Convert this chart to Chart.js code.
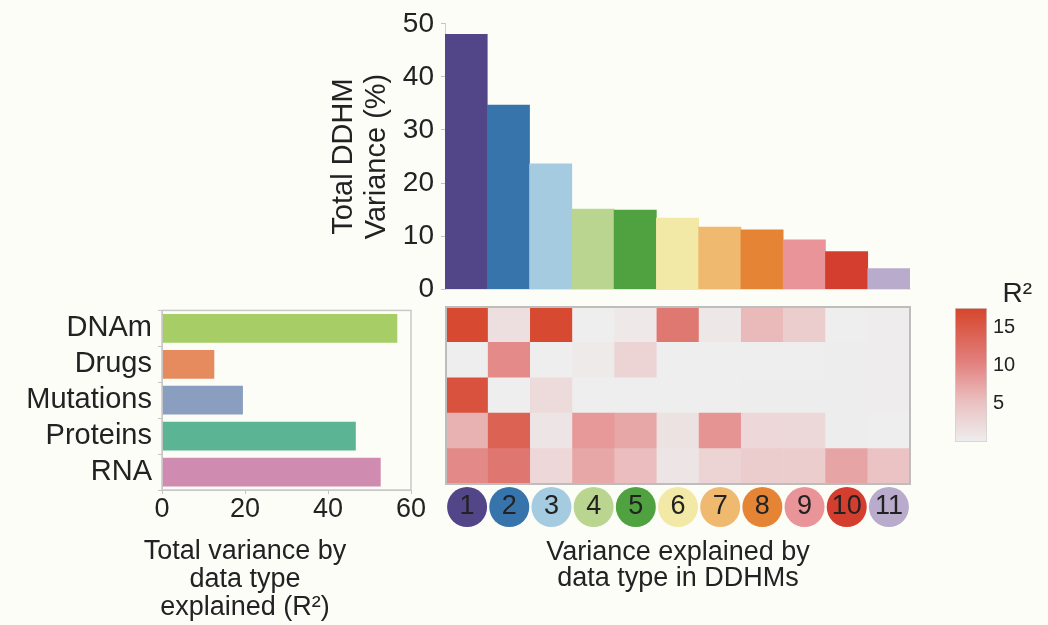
<!DOCTYPE html>
<html>
<head>
<meta charset="utf-8">
<script src="https://cdn.jsdelivr.net/npm/chart.js@4/dist/chart.umd.min.js"></script>
<style>
  html, body { margin: 0; padding: 0; background: #fdfdf8; }
  body { width: 1048px; height: 625px; position: relative; overflow: hidden; }
  canvas { position: absolute; }
</style>
</head>
<body>
<canvas id="ddhm-bars" width="600" height="313" style="left:320px;top:0"></canvas>
<canvas id="type-bars" width="440" height="338" style="left:0;top:287px"></canvas>
<canvas id="r2-heatmap" width="480" height="300" style="left:440px;top:300px"></canvas>
<canvas id="r2-colorbar" width="92" height="180" style="left:940px;top:280px"></canvas>
<script>
// DDHM modules
const ddhmLabels = ['1', '2', '3', '4', '5', '6', '7', '8', '9', '10', '11'];
const ddhmVariance = [48.0, 34.7, 23.6, 15.1, 14.9, 13.4, 11.7, 11.2, 9.3, 7.1, 3.9];
const ddhmColors = ['#524588', '#3774ab', '#a5cbe0', '#bad58f', '#4fa23f', '#f1e9a5',
  '#efb970', '#e48434', '#e89498', '#d43e2e', '#b8abcc'];
const varianceTicks = [0, 10, 20, 30, 40, 50];

// data types
const dataTypes = ['DNAm', 'Drugs', 'Mutations', 'Proteins', 'RNA'];
const typeVariance = [56.7, 12.6, 19.5, 46.7, 52.7];
const typeColors = ['#a6cd66', '#e58b5e', '#8a9ec0', '#5bb595', '#cf8bb0'];
const typeTicks = [0, 20, 40, 60];
const typeCaption = ['Total variance by', 'data type', 'explained (R²)'];

// R2 per data type per DDHM
const r2DNAm = [17.0, 1.8, 17.0, 0.0, 0.7, 11.4, 0.8, 5.8, 3.8, 0.0, 0.2];
const r2Drugs = [0.0, 9.6, 0.0, 0.5, 3.0, 0.0, 0.0, 0.0, 0.0, 0.1, 0.2];
const r2Mutations = [16.0, 0.0, 2.3, 0.0, 0.0, 0.0, 0.0, 0.1, 0.1, 0.1, 0.2];
const r2Proteins = [6.4, 14.0, 1.0, 8.4, 7.3, 1.4, 8.8, 2.6, 2.5, 0.1, 0.0];
const r2RNA = [9.7, 11.6, 2.6, 7.3, 5.5, 1.0, 3.0, 3.8, 3.8, 7.5, 4.9];
const r2Ticks = [5, 10, 15];
const R2_MAX = 17.5;

const COLOR_STOPS = [[0, '#eeeeee'], [0.3, '#ebc0c1'], [0.6, '#e27f7d'], [1, '#d6462b']];
const FONT = "'Liberation Sans', Arial, Helvetica, sans-serif";
const INK = '#222222';

Chart.defaults.font.family = FONT;
Chart.defaults.color = INK;
Chart.defaults.animation = false;
Chart.defaults.responsive = false;
Chart.defaults.plugins.legend.display = false;
Chart.defaults.plugins.tooltip.enabled = false;

function hexToRgb(hex) {
  const n = parseInt(hex.slice(1), 16);
  return [(n >> 16) & 255, (n >> 8) & 255, n & 255];
}

function r2Color(v) {
  const t = Math.max(0, Math.min(1, v / R2_MAX));
  for (let i = 1; i < COLOR_STOPS.length; i++) {
    const [t0, c0] = COLOR_STOPS[i - 1];
    const [t1, c1] = COLOR_STOPS[i];
    if (t <= t1) {
      const f = (t - t0) / (t1 - t0);
      const a = hexToRgb(c0), b = hexToRgb(c1);
      const rgb = a.map((x, k) => Math.round(x + (b[k] - x) * f));
      return `rgb(${rgb.join(',')})`;
    }
  }
  return COLOR_STOPS[COLOR_STOPS.length - 1][1];
}

function frame(color, width) {
  return {
    id: 'frame',
    afterDraw(chart) {
      const { ctx, chartArea: a } = chart;
      ctx.save();
      ctx.strokeStyle = color;
      ctx.lineWidth = width;
      ctx.strokeRect(a.left, a.top, a.right - a.left, a.bottom - a.top);
      ctx.restore();
    },
  };
}

// caption under the x axis, centred a bit left of the plot like the original
function caption(lines, centreX, gapBelowAxis, lineGap) {
  return {
    id: 'caption',
    afterDraw(chart) {
      const { ctx } = chart;
      const y0 = chart.scales.x.bottom + gapBelowAxis;
      ctx.save();
      ctx.font = `27px ${FONT}`;
      ctx.fillStyle = INK;
      ctx.textAlign = 'center';
      ctx.textBaseline = 'middle';
      lines.forEach((line, i) => ctx.fillText(line, centreX, y0 + i * lineGap));
      ctx.restore();
    },
  };
}

const circleBadges = {
  id: 'circleBadges',
  beforeDraw(chart) {
    const { ctx, chartArea, scales } = chart;
    const cy = chartArea.bottom + 23;
    ctx.save();
    ddhmColors.forEach((color, i) => {
      ctx.beginPath();
      ctx.arc(scales.x.getPixelForValue(i), cy, 20, 0, Math.PI * 2);
      ctx.fillStyle = color;
      ctx.fill();
    });
    ctx.restore();
  },
};

// top: total DDHM variance
new Chart(document.getElementById('ddhm-bars'), {
  type: 'bar',
  data: {
    labels: ddhmLabels,
    datasets: [{ data: ddhmVariance, backgroundColor: ddhmColors, barPercentage: 1, categoryPercentage: 1 }],
  },
  options: {
    layout: { padding: { top: 22, right: 10, bottom: 16 } },
    scales: {
      x: {
        ticks: { display: false },
        grid: { display: false, drawTicks: false },
        border: { color: '#e4e4e4' },
      },
      y: {
        min: varianceTicks[0],
        max: varianceTicks[varianceTicks.length - 1],
        afterBuildTicks: (s) => { s.ticks = varianceTicks.map((v) => ({ value: v })); },
        ticks: { font: { size: 28 }, padding: 7, color: INK },
        grid: { drawOnChartArea: false, tickLength: 4, color: '#c4c4c4' },
        border: { color: '#cfcfcf' },
        title: {
          display: true,
          text: ['Total DDHM', 'Variance (%)'],
          font: { size: 29, lineHeight: 1.15 },
          padding: { top: 7, bottom: 0 },
          color: INK,
        },
        afterFit: (s) => { s.width = 125; },
      },
    },
  },
});

// left: total variance by data type
new Chart(document.getElementById('type-bars'), {
  type: 'bar',
  data: {
    labels: dataTypes,
    datasets: [{ data: typeVariance, backgroundColor: typeColors, barPercentage: 0.8, categoryPercentage: 1 }],
  },
  options: {
    indexAxis: 'y',
    layout: { padding: { top: 9, right: 29, bottom: 102 } },
    scales: {
      x: {
        min: typeTicks[0],
        max: typeTicks[typeTicks.length - 1],
        afterBuildTicks: (s) => { s.ticks = typeTicks.map((v) => ({ value: v })); },
        ticks: { font: { size: 27, lineHeight: 1 }, padding: 2, color: INK },
        grid: { drawOnChartArea: false, tickLength: 4, color: '#c4c4c4' },
        border: { color: '#c8c8c8' },
        afterFit: (s) => { s.height = 33; },
      },
      y: {
        ticks: { font: { size: 29 }, padding: 6, color: INK, autoSkip: false },
        grid: { drawOnChartArea: false, tickLength: 4, color: '#c4c4c4' },
        border: { color: '#c8c8c8' },
        afterFit: (s) => { s.width = 162; },
      },
    },
  },
  plugins: [frame('#c8c8c8', 1.5), caption(typeCaption, 245, 29, 28)],
});

// heatmap: rows stacked bottom to top
const heatRows = [
  ['RNA', r2RNA], ['Proteins', r2Proteins], ['Mutations', r2Mutations], ['Drugs', r2Drugs], ['DNAm', r2DNAm],
];

new Chart(document.getElementById('r2-heatmap'), {
  type: 'bar',
  data: {
    labels: ddhmLabels,
    datasets: heatRows.map(([name, values]) => ({
      label: name,
      data: values.map(() => 1),
      backgroundColor: values.map(r2Color),
      barPercentage: 1,
      categoryPercentage: 1,
    })),
  },
  options: {
    layout: { padding: { left: 6, top: 7, right: 10 } },
    scales: {
      x: {
        stacked: true,
        ticks: { font: { size: 27, lineHeight: 1.1 }, padding: 8, color: INK },
        grid: { display: false, drawTicks: false },
        border: { display: false },
        title: {
          display: true,
          text: ['Variance explained by', 'data type in DDHMs'],
          font: { size: 27, lineHeight: 0.95 },
          padding: { top: 0, bottom: 9 },
          color: INK,
        },
        afterFit: (s) => { s.height = 116; },
      },
      y: { stacked: true, display: false, min: 0, max: heatRows.length },
    },
  },
  plugins: [circleBadges, frame('#bdbdbd', 2)],
});

// colour bar
new Chart(document.getElementById('r2-colorbar'), {
  type: 'bar',
  data: {
    labels: ['R²'],
    datasets: [{
      data: [R2_MAX],
      backgroundColor: (ctx) => {
        const chart = ctx.chart;
        if (!chart.chartArea) return COLOR_STOPS[0][1];
        const y = chart.scales.y;
        const g = chart.ctx.createLinearGradient(0, y.getPixelForValue(0), 0, y.getPixelForValue(R2_MAX));
        COLOR_STOPS.forEach(([t, c]) => g.addColorStop(t, c));
        return g;
      },
      borderColor: '#d0d0d0',
      borderWidth: 1,
      borderSkipped: false,
      barPercentage: 1,
      categoryPercentage: 1,
    }],
  },
  options: {
    layout: { padding: { left: 15, bottom: 18 } },
    plugins: {
      title: {
        display: true,
        text: 'R²',
        align: 'end',
        font: { size: 28, weight: 'normal', lineHeight: 1 },
        padding: { top: 0, bottom: 0 },
        color: INK,
      },
    },
    scales: {
      x: { display: false },
      y: {
        position: 'right',
        min: 0,
        max: R2_MAX,
        afterBuildTicks: (s) => { s.ticks = r2Ticks.map((v) => ({ value: v })); },
        ticks: { font: { size: 20 }, padding: 6, color: INK },
        grid: { display: false, drawTicks: false },
        border: { display: false },
        afterFit: (s) => { s.width = 45; },
      },
    },
  },
});
</script>
</body>
</html>
